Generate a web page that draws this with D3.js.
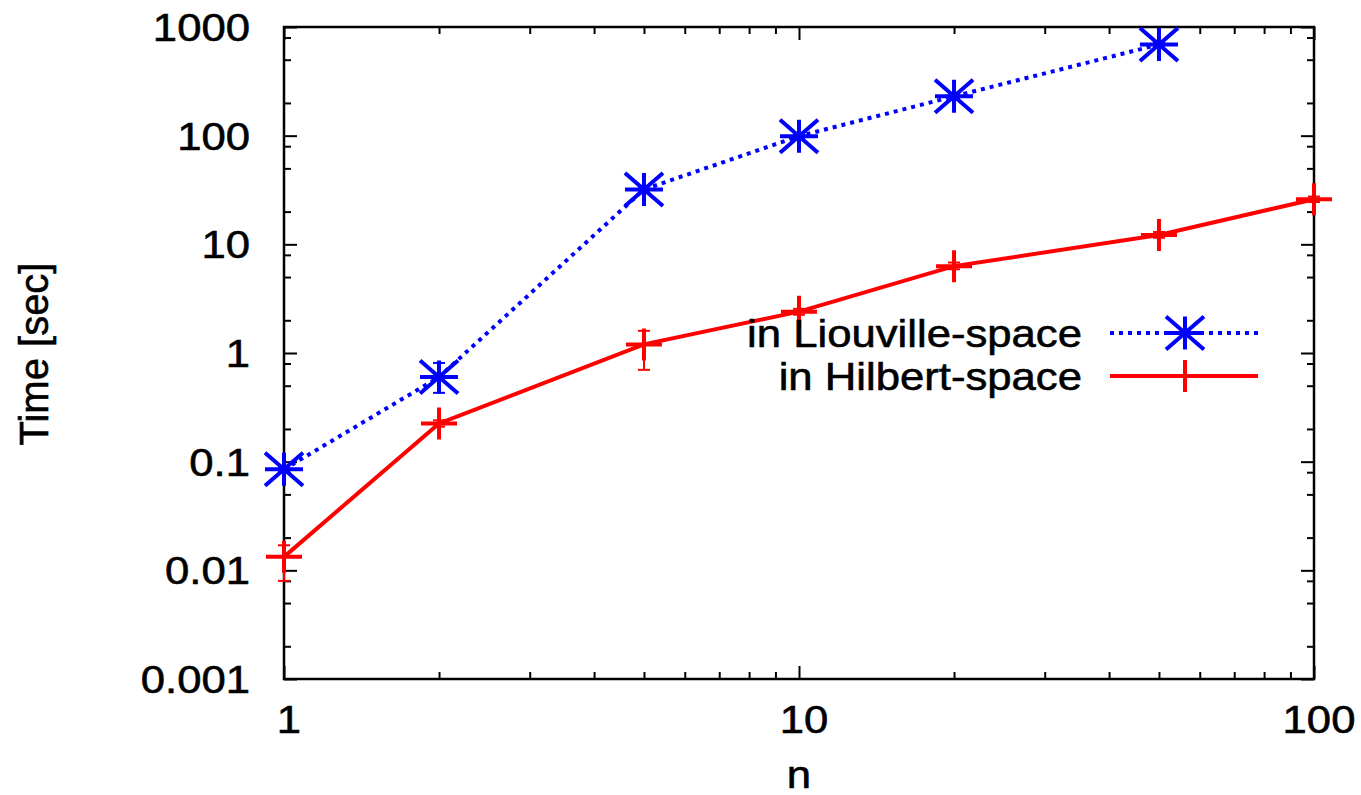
<!DOCTYPE html>
<html>
<head>
<meta charset="utf-8">
<script src="https://cdn.jsdelivr.net/npm/d3@7"></script>
<style>
  body { margin: 0; background: #fff; }
  svg text { font-family: "Liberation Sans", Arial, sans-serif; fill: #000; stroke: #000; stroke-width: 0.6px; }
</style>
</head>
<body>
<div id="chart"></div>
<script>
// data
const liouvilleN = [1, 2, 5, 10, 20, 50];
const liouvilleT = [0.085, 0.6, 32, 99, 230, 690];
const liouvilleLo = [0.08, 0.43, 30, 95, 222, 670];
const liouvilleHi = [0.09, 0.81, 34, 103, 238, 710];

const hilbertN = [1, 2, 5, 10, 20, 50, 100];
const hilbertT = [0.0133, 0.225, 1.2, 2.4, 6.3, 12.2, 26];
const hilbertLo = [0.008, 0.21, 0.7, 2.25, 5.9, 11.5, 24.5];
const hilbertHi = [0.017, 0.24, 1.6, 2.55, 6.8, 13, 27.5];

const xTicks = [1, 10, 100];
const yTicks = [0.001, 0.01, 0.1, 1, 10, 100, 1000];
const yTickLabels = ["0.001", "0.01", "0.1", "1", "10", "100", "1000"];

const width = 1361, height = 795;
const plot = {left: 284, right: 1314, top: 27, bottom: 679};
const FONT = 39, STRETCH = 1.12;
const BLUE = "#0000ff", RED = "#ff0000";

(function() {
    let svg = d3.select("#chart")
        .append("svg")
        .attr("width", width)
        .attr("height", height);

    let x = d3.scaleLog().domain([1, 100]).range([plot.left, plot.right]);
    let y = d3.scaleLog().domain([0.001, 1000]).range([plot.bottom, plot.top]);

    // minor ticks: 2..9 per decade on x, 2,5,8 per decade on y (as in picture)
    let xMinor = [];
    for (let d = 1; d < 100; d *= 10)
        for (let m = 2; m <= 9; m++) xMinor.push(d * m);
    let yMinor = [];
    for (let d = 0.001; d < 999; d *= 10)
        [2, 5, 8].forEach(m => yMinor.push(+(d * m).toPrecision(3)));

    function tickAxis(axisFn, scale, values, size, transform) {
        svg.append("g")
            .attr("transform", transform)
            .call(axisFn(scale).tickValues(values).tickSize(size).tickSizeOuter(0).tickFormat(""))
            .call(g => g.select(".domain").remove())
            .selectAll("line").attr("stroke", "#000").attr("stroke-width", 2);
    }

    // inward ticks on all four sides
    tickAxis(d3.axisBottom, x, xTicks, -13, `translate(0,${plot.bottom})`);
    tickAxis(d3.axisBottom, x, xMinor, -7, `translate(0,${plot.bottom})`);
    tickAxis(d3.axisTop, x, xTicks, -13, `translate(0,${plot.top})`);
    tickAxis(d3.axisTop, x, xMinor, -7, `translate(0,${plot.top})`);
    tickAxis(d3.axisLeft, y, yTicks, -13, `translate(${plot.left},0)`);
    tickAxis(d3.axisLeft, y, yMinor, -7, `translate(${plot.left},0)`);
    tickAxis(d3.axisRight, y, yTicks, -13, `translate(${plot.right},0)`);
    tickAxis(d3.axisRight, y, yMinor, -7, `translate(${plot.right},0)`);

    // frame
    svg.append("rect")
        .attr("x", plot.left).attr("y", plot.top)
        .attr("width", plot.right - plot.left)
        .attr("height", plot.bottom - plot.top)
        .attr("fill", "none").attr("stroke", "#000").attr("stroke-width", 2.5);

    function label(tx, ty, str, anchor) {
        return svg.append("text")
            .attr("transform", `translate(${tx},${ty}) scale(${STRETCH},1)`)
            .attr("text-anchor", anchor)
            .style("font-size", FONT + "px")
            .text(str);
    }

    // tick labels
    xTicks.forEach(v => label(x(v) + 5, 733, String(v), "middle"));
    yTicks.forEach((v, i) => label(250, y(v) + 14, yTickLabels[i], "end"));

    // axis titles
    label(x(10), 788, "n", "middle");
    svg.append("text")
        .attr("transform", `translate(48, 354) rotate(-90)`)
        .attr("text-anchor", "middle")
        .style("font-size", "40px")
        .text("Time [sec]");

    let liouville = liouvilleN.map((n, i) => ({n: n, t: liouvilleT[i], lo: liouvilleLo[i], hi: liouvilleHi[i]}));
    let hilbert = hilbertN.map((n, i) => ({n: n, t: hilbertT[i], lo: hilbertLo[i], hi: hilbertHi[i]}));

    let line = d3.line().x(d => x(d.n)).y(d => y(d.t));

    function errorBars(data, color) {
        let g = svg.append("g").attr("stroke", color).attr("stroke-width", 2);
        g.selectAll("line.v").data(data).enter().append("line")
            .attr("x1", d => x(d.n)).attr("x2", d => x(d.n))
            .attr("y1", d => y(d.lo)).attr("y2", d => y(d.hi));
        g.selectAll("line.lo").data(data).enter().append("line")
            .attr("x1", d => x(d.n) - 6).attr("x2", d => x(d.n) + 6)
            .attr("y1", d => y(d.lo)).attr("y2", d => y(d.lo));
        g.selectAll("line.hi").data(data).enter().append("line")
            .attr("x1", d => x(d.n) - 6).attr("x2", d => x(d.n) + 6)
            .attr("y1", d => y(d.hi)).attr("y2", d => y(d.hi));
    }

    function starPath(cx, cy) {
        let w = 19, h = 16.5;
        return `M${cx - w},${cy}H${cx + w}M${cx},${cy - h}V${cy + h}` +
            `M${cx - w},${cy - h}L${cx + w},${cy + h}M${cx - w},${cy + h}L${cx + w},${cy - h}`;
    }
    function plusPath(cx, cy) {
        let w = 18, h = 16;
        return `M${cx - w},${cy}H${cx + w}M${cx},${cy - h}V${cy + h}`;
    }

    // Liouville-space series
    errorBars(liouville, BLUE);
    svg.append("path")
        .datum(liouville)
        .attr("d", line)
        .attr("fill", "none").attr("stroke", BLUE)
        .attr("stroke-width", 4).attr("stroke-dasharray", "4,5");
    svg.append("g").selectAll("path").data(liouville).enter().append("path")
        .attr("d", d => starPath(x(d.n), y(d.t)))
        .attr("stroke", BLUE).attr("stroke-width", 4).attr("fill", "none");

    // Hilbert-space series
    errorBars(hilbert, RED);
    svg.append("path")
        .datum(hilbert)
        .attr("d", line)
        .attr("fill", "none").attr("stroke", RED).attr("stroke-width", 4);
    svg.append("g").selectAll("path").data(hilbert).enter().append("path")
        .attr("d", d => plusPath(x(d.n), y(d.t)))
        .attr("stroke", RED).attr("stroke-width", 4).attr("fill", "none");

    // legend
    let legend = [
        {name: "in Liouville-space", color: BLUE, dash: "4,5", marker: starPath, y: 333},
        {name: "in Hilbert-space", color: RED, dash: null, marker: plusPath, y: 376}
    ];
    legend.forEach(l => {
        label(1082, l.y + 14, l.name, "end");
        svg.append("line")
            .attr("x1", 1110).attr("x2", 1258).attr("y1", l.y).attr("y2", l.y)
            .attr("stroke", l.color).attr("stroke-width", 4)
            .attr("stroke-dasharray", l.dash);
        svg.append("path")
            .attr("d", l.marker(1185, l.y))
            .attr("stroke", l.color).attr("stroke-width", 4).attr("fill", "none");
    });
})();
</script>
</body>
</html>
